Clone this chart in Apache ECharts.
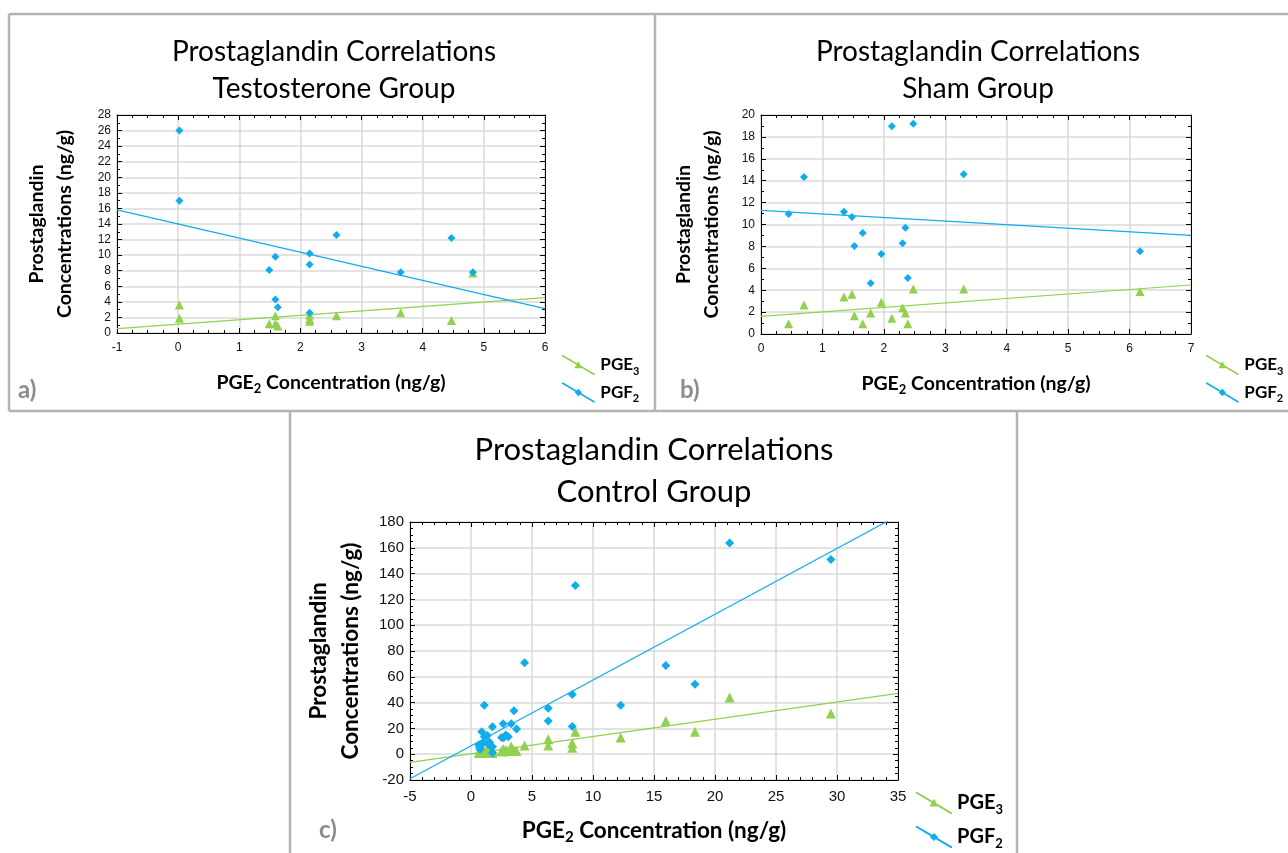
<!DOCTYPE html>
<html><head><meta charset="utf-8">
<script src="https://cdn.jsdelivr.net/npm/echarts@6/dist/echarts.min.js"></script>
<style>html,body{margin:0;padding:0;background:#fff}#c{width:1288px;height:853px}</style>
</head><body><div id="c"></div>
<script>
// ---- Panel a: Testosterone group ----
const testoPGE2 = [0.02, 0.02, 1.49, 1.59, 1.59, 1.63, 2.15, 2.15, 2.15, 2.59, 3.64, 4.47, 4.82];
const testoPGF2 = [26.0, 17.0, 8.1, 9.8, 4.3, 3.3, 10.2, 8.8, 2.6, 12.6, 7.8, 12.2, 7.8];
const testoPGE3 = [3.6, 1.9, 1.2, 2.2, 1.2, 0.9, 1.8, 1.5, 2.3, 2.2, 2.6, 1.6, 7.7];
const testoFitPGE3 = [0.571, 1.13];   // slope, intercept
const testoFitPGF2 = [-1.81, 14.0];
// ---- Panel b: Sham group ----
const shamPGE2 = [0.45, 0.70, 1.35, 1.48, 1.52, 1.655, 1.785, 1.96, 2.13, 2.305, 2.35, 2.39, 2.48, 3.30, 6.17];
const shamPGF2 = [10.96, 14.34, 11.17, 10.68, 8.04, 9.22, 4.63, 7.31, 18.97, 8.28, 9.71, 5.11, 19.2, 14.58, 7.55];
const shamPGE3 = [0.94, 2.65, 3.38, 3.62, 1.67, 0.94, 1.92, 2.89, 1.43, 2.4, 1.92, 0.94, 4.1, 4.1, 3.87];
const shamFitPGE3 = [0.409, 1.61];
const shamFitPGF2 = [-0.326, 11.29];
// ---- Panel c: Control group ----
const ctrlPGE2 = [0.64, 0.70, 0.73, 0.88, 0.97, 1.09, 1.09, 1.33, 1.33, 1.52, 1.58, 1.76, 1.76, 1.76,
  2.50, 2.64, 2.67, 2.85, 3.06, 3.30, 3.52, 3.73, 4.39, 6.33, 6.33, 8.3, 8.3, 8.55, 12.27, 15.97, 18.36, 21.2, 29.5];
const ctrlPGF2 = [7.1, 5.3, 3.7, 17.4, 8.4, 38, 13.5, 14.5, 8.4, 9.2, 6.3, 21.3, 1.2, 5.8,
  13, 23.6, 12.8, 14.8, 13.5, 23.6, 33.7, 19.5, 70.8, 35.7, 25.7, 46.3, 21.5, 130.7, 38, 68.8, 54.3, 163.7, 151];
const ctrlPGE3 = [1, 2, 1.5, 1, 3, 1.5, 2.5, 1, 4, 1.5, 2, 1.5, 3, 1,
  2.5, 4, 2, 3.5, 2.5, 6, 3, 2.5, 6.8, 11.5, 6.8, 8.4, 5, 17.4, 13, 25.7, 17.4, 44, 31.6];
const ctrlFitPGE3 = [1.335, 0.4];
const ctrlFitPGF2 = [5.1, 6.5];
// axis ranges [min, max, interval]
const axA = {x: [-1, 6, 1], y: [0, 28, 2]};
const axB = {x: [0, 7, 1], y: [0, 20, 2]};
const axC = {x: [-5, 35, 5], y: [-20, 180, 20]};
const titles = ['Prostaglandin Correlations\nTestosterone Group', 'Prostaglandin Correlations\nSham Group', 'Prostaglandin Correlations\nControl Group'];

const BLUE = '#10acec', GREEN = '#92d050';
const pts = (xs, ys) => xs.map((x, i) => [x, ys[i]]);
const fit = (f, r) => [[r[0], f[0] * r[0] + f[1]], [r[1], f[0] * r[1] + f[1]]];

const grids = [
  {left: 117, top: 115, width: 428, height: 218},
  {left: 761, top: 115, width: 430, height: 219},
  {left: 410, top: 522, width: 488, height: 258}
];
const AX = [axA, axB, axC];
const minorX = [4, 4, 5], minorY = [2, 2, 4];
const lblSize = [12, 12, 15];
const nameSize = [19.5, 19.5, 22.5];
const yGap = [38, 35, 43];
const xGap = [37, 37, 36];
const yLH = [28, 28, 32];

const rich = (fs) => ({
  b: {fontFamily: 'Lato', fontWeight: 'bold', fontSize: fs, lineHeight: fs + 6, color: '#000'},
  s: {fontFamily: 'Lato', fontWeight: 'bold', fontSize: Math.round(fs * 0.65), lineHeight: 8, verticalAlign: 'bottom', color: '#000'}
});

const xAxis = [], yAxis = [];
AX.forEach((a, g) => {
  const tick = {show: true, inside: true, length: 5, lineStyle: {color: '#000'}};
  const minor = (n) => ({show: true, splitNumber: n, length: 3, lineStyle: {color: '#000'}});
  xAxis.push({
    type: 'value', gridIndex: g, min: a.x[0], max: a.x[1], interval: a.x[2], position: 'bottom',
    axisLine: {show: true, onZero: false, lineStyle: {color: '#000', width: 1}},
    axisTick: tick, minorTick: minor(minorX[g]),
    splitLine: {show: true, lineStyle: {color: '#dadada', width: 1.5}},
    axisLabel: {fontFamily: 'Liberation Sans', fontSize: lblSize[g], color: '#111', margin: 9},
    name: '{b|PGE}{s|2}{b| Concentration (ng/g)}', nameLocation: 'middle', nameGap: xGap[g],
    nameTextStyle: {rich: rich(nameSize[g])}
  });
  xAxis.push({
    type: 'value', gridIndex: g, min: a.x[0], max: a.x[1], interval: a.x[2], position: 'top',
    axisLine: {show: true, onZero: false, lineStyle: {color: '#000', width: 1}},
    axisTick: tick, minorTick: minor(minorX[g]), splitLine: {show: false}, axisLabel: {show: false}
  });
  yAxis.push({
    type: 'value', gridIndex: g, min: a.y[0], max: a.y[1], interval: a.y[2], position: 'left',
    axisLine: {show: true, onZero: false, lineStyle: {color: '#000', width: 1}},
    axisTick: tick, minorTick: minor(minorY[g]),
    splitLine: {show: true, lineStyle: {color: '#dadada', width: 1.5}},
    axisLabel: {fontFamily: 'Liberation Sans', fontSize: lblSize[g], color: '#111', margin: 6},
    name: 'Prostaglandin\nConcentrations (ng/g)', nameLocation: 'middle', nameRotate: 90, nameGap: yGap[g],
    nameTextStyle: {fontFamily: 'Lato', fontWeight: 'bold', fontSize: nameSize[g], lineHeight: yLH[g], color: '#000'}
  });
  yAxis.push({
    type: 'value', gridIndex: g, min: a.y[0], max: a.y[1], interval: a.y[2], position: 'right',
    axisLine: {show: true, onZero: false, lineStyle: {color: '#000', width: 1}},
    axisTick: tick, minorTick: minor(minorY[g]), splitLine: {show: false}, axisLabel: {show: false}
  });
});

const panels = [
  {x: testoPGE2, e: testoPGE3, f: testoPGF2, fe: testoFitPGE3, ff: testoFitPGF2},
  {x: shamPGE2, e: shamPGE3, f: shamPGF2, fe: shamFitPGE3, ff: shamFitPGF2},
  {x: ctrlPGE2, e: ctrlPGE3, f: ctrlPGF2, fe: ctrlFitPGE3, ff: ctrlFitPGF2}
];
const series = [];
panels.forEach((p, g) => {
  const ax = {xAxisIndex: g * 2, yAxisIndex: g * 2};
  const r = [AX[g].x[0], AX[g].x[1]];
  series.push({type: 'line', name: 'PGE3 fit', ...ax, data: fit(p.fe, r), showSymbol: false, silent: true, clip: true,
    lineStyle: {color: GREEN, width: 1.2}, z: 2});
  series.push({type: 'line', name: 'PGF2 fit', ...ax, data: fit(p.ff, r), showSymbol: false, silent: true, clip: true,
    lineStyle: {color: BLUE, width: 1.2}, z: 2});
  series.push({type: 'scatter', name: 'PGE3', ...ax, data: pts(p.x, p.e), symbol: 'triangle', symbolSize: g === 2 ? 10 : 9,
    itemStyle: {color: GREEN, opacity: 1}, z: 3});
  series.push({type: 'scatter', name: 'PGF2', ...ax, data: pts(p.x, p.f), symbol: 'diamond', symbolSize: g === 2 ? 9 : 8,
    itemStyle: {color: BLUE, opacity: 1}, z: 4});
});

const iconE = 'path://M0,0 L1.3,0 L36,20.6 L36,22 L34.7,22 L0,1.4 Z M13.5,14.5 L18,6.8 L22.5,14.5 Z';
const iconF = 'path://M0,0 L1.3,0 L36,20.6 L36,22 L34.7,22 L0,1.4 Z M18,7 L22,11 L18,15 L14,11 Z';
const mkLegend = (left, top, fs, w, h, gap) => ({
  orient: 'vertical', left, top, padding: 0, itemWidth: w, itemHeight: h, itemGap: gap, selectedMode: false,
  data: [{name: 'PGE3', icon: iconE}, {name: 'PGF2', icon: iconF}],
  formatter: n => n === 'PGE3' ? '{b|PGE}{s|3}' : '{b|PGF}{s|2}',
  textStyle: {rich: rich(fs)}
});

const border = '#b3b3b3';
const line = (x1, y1, x2, y2) => ({type: 'line', shape: {x1, y1, x2, y2}, style: {stroke: border, lineWidth: 2.5}, silent: true});
const plabel = (t, x, y) => ({type: 'text', left: x, top: y, style: {text: t, font: 'bold 24px Lato', fill: '#8c8c8c'}});
const tStyle = (fs, lh) => ({fontFamily: 'Lato', fontWeight: 'normal', fontSize: fs, lineHeight: lh, color: '#000'});

const option = {
  animation: false,
  backgroundColor: '#fff',
  title: [
    {text: titles[0], left: 334, top: 33, padding: 0, textAlign: 'center', textStyle: tStyle(28, 37)},
    {text: titles[1], left: 978, top: 33, padding: 0, textAlign: 'center', textStyle: tStyle(28, 37)},
    {text: titles[2], left: 654, top: 429, padding: 0, textAlign: 'center', textStyle: tStyle(31, 42)}
  ],
  grid: grids,
  xAxis, yAxis, series,
  legend: [mkLegend(562, 355, 17, 34, 20, 6), mkLegend(1206, 355, 17, 34, 20, 6), mkLegend(916, 792, 20, 36, 22, 10)],
  graphic: [
    line(9, 14, 1288, 14), line(9, 14, 9, 411), line(655, 14, 655, 411), line(9, 411, 1288, 411),
    line(290, 411, 290, 853), line(1017, 411, 1017, 853),
    plabel('a)', 18, 378), plabel('b)', 680, 378), plabel('c)', 319, 818)
  ]
};
const chart = echarts.init(document.getElementById('c'), null, {renderer: 'canvas'});
chart.setOption(option);
</script></body></html>
